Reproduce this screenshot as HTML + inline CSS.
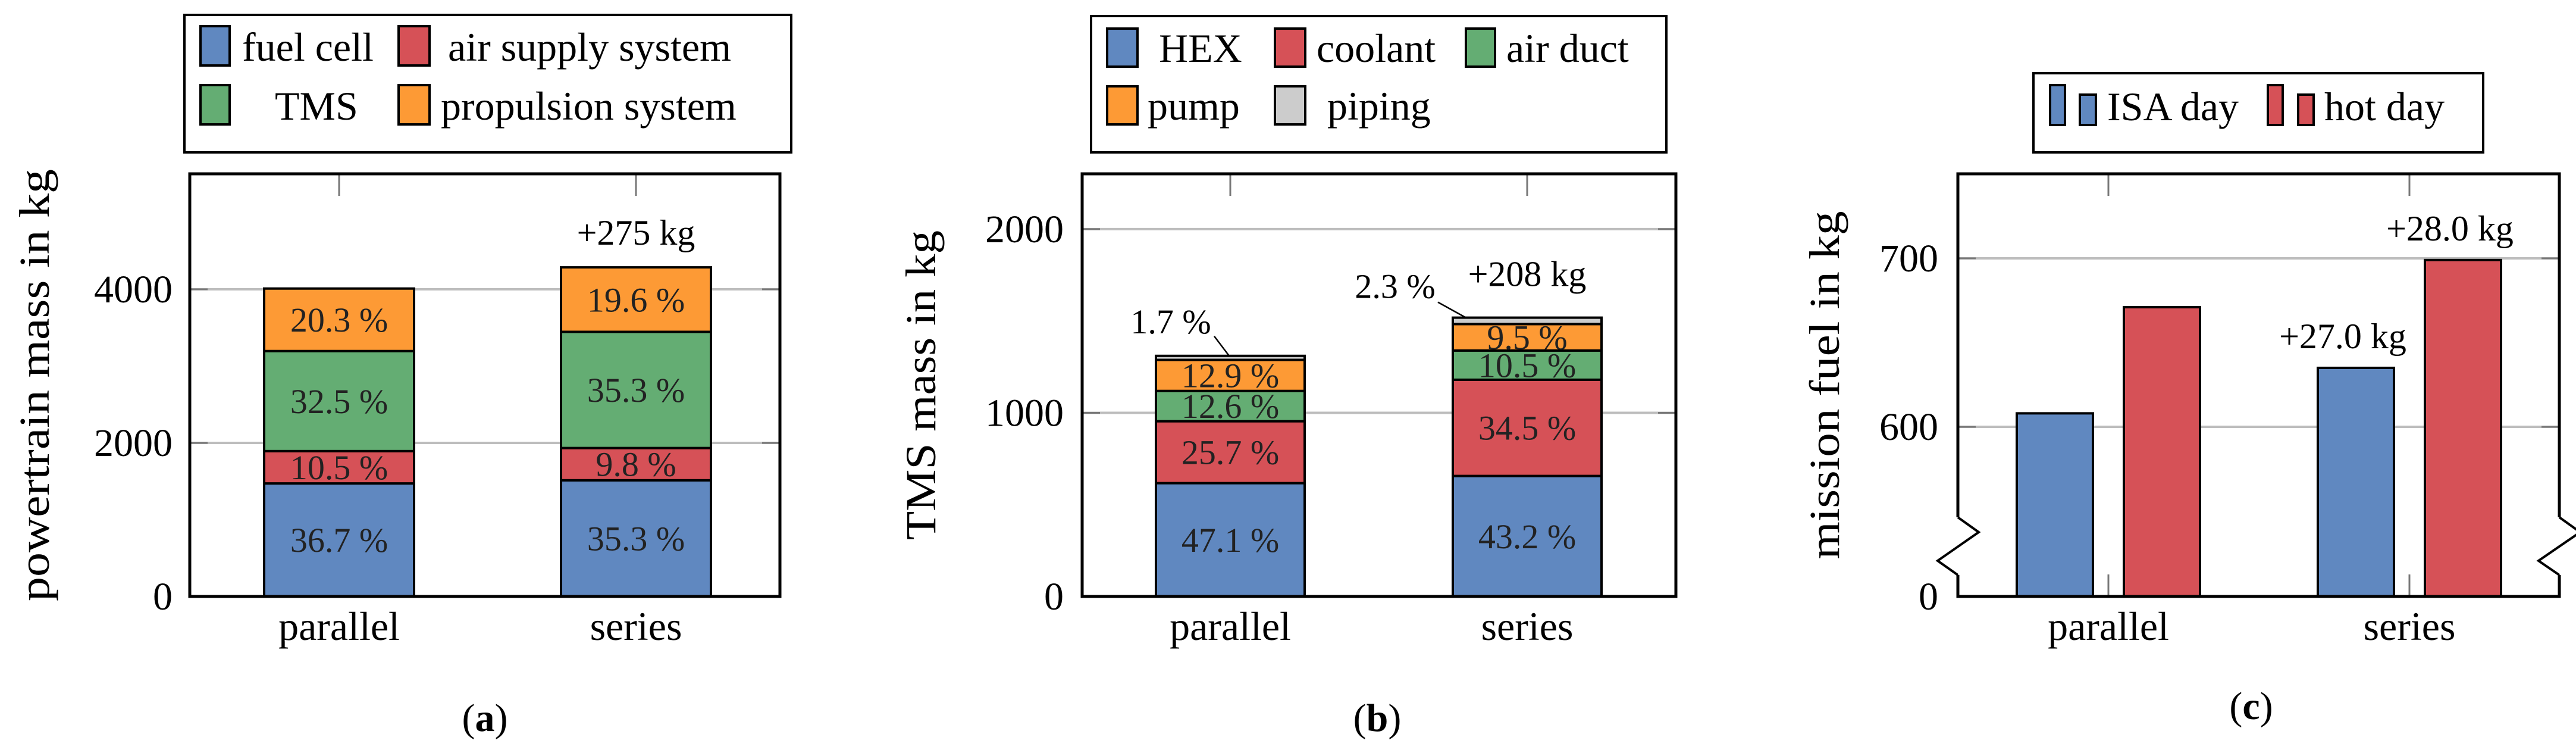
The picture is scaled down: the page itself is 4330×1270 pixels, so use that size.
<!DOCTYPE html>
<html><head><meta charset="utf-8">
<style>
html,body{margin:0;padding:0;background:#fff;}
svg, svg text, svg tspan{font-family:"Liberation Serif","DejaVu Serif",serif;}
</style></head>
<body>
<svg id="fig" width="4330" height="1265" viewBox="0 0 4330 1265" font-family="Liberation Serif, serif" xmlns="http://www.w3.org/2000/svg"></svg>
<script>
// ---------- data ----------
const categories = ["parallel", "series"];
// panel a (kg)
const aFuelCell = [1472, 1513];
const aAirSupply = [421, 420];
const aTMS = [1303, 1513];
const aPropulsion = [814, 840];
const aPctLabels = [["36.7 %","10.5 %","32.5 %","20.3 %"],["35.3 %","9.8 %","35.3 %","19.6 %"]];
const aTicks = [0, 2000, 4000];
const aDelta = "+275 kg";
// panel b (kg)
const bHEX = [617, 656];
const bCoolant = [337, 524];
const bAirDuct = [165, 159];
const bPump = [169, 144];
const bPiping = [22, 35];
const bPctLabels = [["47.1 %","25.7 %","12.6 %","12.9 %","1.7 %"],["43.2 %","34.5 %","10.5 %","9.5 %","2.3 %"]];
const bTicks = [0, 1000, 2000];
const bDelta = "+208 kg";
// panel c (kg)
const cISA = [608, 635];
const cHot = [671, 699];
const cTicks = [600, 700];
const cDeltaLabels = ["+27.0 kg", "+28.0 kg"];

const COL = {blue:"#6088c0", red:"#d65157", green:"#64ad73", orange:"#fd9a35", grey:"#cccccc"};
const NS = "http://www.w3.org/2000/svg";
const svg = document.getElementById("fig");
function mk(tag, attrs, parent, text){
  const e = document.createElementNS(NS, tag);
  for (const k in attrs) e.setAttribute(k, attrs[k]);
  if (tag === "text") e.setAttribute("font-family", "Liberation Serif, serif");
  if (text !== undefined) e.textContent = text;
  (parent || svg).appendChild(e);
  return e;
}
const Y0 = 1002, YT = 292;

function axesFrame(g, x0, x1, catX, yScale, ticks, tickFmt, labelRight){
  ticks.forEach(t => {
    const y = yScale(t);
    if (t !== ticks[0] || y < Y0 - 5) {
      const gl = mk("line",{x1:x0,x2:x1,y1:y,y2:y,stroke:"#bdbdbd","stroke-width":4},g);
      
      
      mk("line",{x1:x0,x2:x0+30,y1:y,y2:y,stroke:"#777","stroke-width":3},g);
      mk("line",{x1:x1-30,x2:x1,y1:y,y2:y,stroke:"#777","stroke-width":3},g);
    }
    const tl = mk("text",{x:labelRight,y:y+22,"text-anchor":"end","font-size":66},g,tickFmt(t));
    
    
  });
  catX.forEach((cx,i) => {
    mk("line",{x1:cx,x2:cx,y1:YT,y2:YT+37,stroke:"#777","stroke-width":3},g);
    mk("line",{x1:cx,x2:cx,y1:Y0-37,y2:Y0,stroke:"#777","stroke-width":3},g);
    const xl = mk("text",{x:cx,y:1075,"text-anchor":"middle","font-size":68},g,categories[i]);
    
    
  });
}
function legendItem(g, x, y, w, h, color, label, tx, name){
  const r = mk("rect",{x:x,y:y,width:w,height:h,fill:color,stroke:"#000","stroke-width":4},g);
  
  
  if (label){
    const t = mk("text",{x:tx,y:y+h-8,"font-size":68},g,label);
    
    
  }
}

// ---------- panel a ----------
(function(){
  const g = mk("g",{});
  
  
  const x0 = 319, x1 = 1311, ymax = 5504;
  const ys = v => Y0 - v/ymax*(Y0-YT);
  const catX = [570, 1069], bw = 252;
  axesFrame(g, x0, x1, catX, ys, aTicks, t=>String(t), 290);
  const series = [aFuelCell, aAirSupply, aTMS, aPropulsion];
  const colors = [COL.blue, COL.red, COL.green, COL.orange];
  const names = ["fuel-cell","air-supply","tms","propulsion"];
  catX.forEach((cx,i) => {
    let acc = 0;
    series.forEach((s,k) => {
      const yb = ys(acc), yt = ys(acc + s[i]);
      const r = mk("rect",{x:cx-bw/2,y:yt,width:bw,height:yb-yt,fill:colors[k],stroke:"#000","stroke-width":4},g);
      
      
      const t = mk("text",{x:cx,y:(yt+yb)/2+20,"text-anchor":"middle","font-size":58,fill:"#222"},g,aPctLabels[i][k]);
      
      
      acc += s[i];
    });
    if (i === 1){
      const d = mk("text",{x:cx,y:ys(acc)-38,"text-anchor":"middle","font-size":60},g,aDelta);
      
      
    }
  });
  const fr = mk("rect",{x:x0,y:YT,width:x1-x0,height:Y0-YT,fill:"none",stroke:"#000","stroke-width":5},g);
  
  
  const yt = mk("text",{transform:"translate(82,647) rotate(-90)","text-anchor":"middle","font-size":72,textLength:726,lengthAdjust:"spacingAndGlyphs"},g,"powertrain mass in kg");
  
  
  const lg = mk("g",{},g);
  
  
  mk("rect",{x:310,y:25,width:1020,height:231,fill:"#fff",stroke:"#000","stroke-width":4},lg);
  legendItem(lg,337,44,49,66,COL.blue,"fuel cell",407,"legend-fuel-cell");
  legendItem(lg,670,44,52,66,COL.red,"air supply system",753,"legend-air-supply");
  legendItem(lg,337,143,49,66,COL.green,"TMS",462,"legend-tms");
  legendItem(lg,670,143,52,66,COL.orange,"propulsion system",741,"legend-propulsion");
  const cap = mk("text",{x:815,y:1228,"text-anchor":"middle","font-size":66},g);
  
  
  cap.innerHTML = '(<tspan font-weight="bold">a</tspan>)';
})();

// ---------- panel b ----------
(function(){
  const g = mk("g",{});
  
  
  const x0 = 1819, x1 = 2817, ymax = 2301;
  const ys = v => Y0 - v/ymax*(Y0-YT);
  const catX = [2068, 2567], bw = 250;
  axesFrame(g, x0, x1, catX, ys, bTicks, t=>String(t), 1788);
  const series = [bHEX, bCoolant, bAirDuct, bPump, bPiping];
  const colors = [COL.blue, COL.red, COL.green, COL.orange, COL.grey];
  const names = ["hex","coolant","air-duct","pump","piping"];
  catX.forEach((cx,i) => {
    let acc = 0;
    series.forEach((s,k) => {
      const yb = ys(acc), yt = ys(acc + s[i]);
      const r = mk("rect",{x:cx-bw/2,y:yt,width:bw,height:yb-yt,fill:colors[k],stroke:"#000","stroke-width":4},g);
      
      
      if (k < 4){
        const t = mk("text",{x:cx,y:(yt+yb)/2+20,"text-anchor":"middle","font-size":58,fill:"#222"},g,bPctLabels[i][k]);
        
        
      }
      acc += s[i];
    });
    const top = ys(acc);
    const lx = i === 0 ? cx - 2 : cx - 103;
    const tx = i === 0 ? cx - 100 : cx - 222;
    const ty = i === 0 ? top - 38 : top - 33;
    const ln = mk("line",{x1:lx,y1:top,x2:i===0?lx-25:lx-47,y2:i===0?top-33:top-26,stroke:"#000","stroke-width":2.5},g);
    
    
    const pt = mk("text",{x:tx,y:ty,"text-anchor":"middle","font-size":58},g,bPctLabels[i][4]);
    
    
    if (i === 1){
      const d = mk("text",{x:cx,y:top-53,"text-anchor":"middle","font-size":60},g,bDelta);
      
      
    }
  });
  const fr = mk("rect",{x:x0,y:YT,width:x1-x0,height:Y0-YT,fill:"none",stroke:"#000","stroke-width":5},g);
  
  
  const yt = mk("text",{transform:"translate(1572,647) rotate(-90)","text-anchor":"middle","font-size":72,textLength:520,lengthAdjust:"spacingAndGlyphs"},g,"TMS mass in kg");
  
  
  const lg = mk("g",{},g);
  
  
  mk("rect",{x:1834,y:27,width:967,height:229,fill:"#fff",stroke:"#000","stroke-width":4},lg);
  legendItem(lg,1861,48,51,64,COL.blue,"HEX",1948,"legend-hex");
  legendItem(lg,2143,48,51,64,COL.red,"coolant",2213,"legend-coolant");
  legendItem(lg,2464,48,49,64,COL.green,"air duct",2532,"legend-air-duct");
  legendItem(lg,1861,145,51,64,COL.orange,"pump",1929,"legend-pump");
  legendItem(lg,2143,145,51,64,COL.grey,"piping",2231,"legend-piping");
  const cap = mk("text",{x:2315,y:1228,"text-anchor":"middle","font-size":66},g);
  
  
  cap.innerHTML = '(<tspan font-weight="bold">b</tspan>)';
})();

// ---------- panel c ----------
(function(){
  const g = mk("g",{});
  
  
  const x0 = 3291, x1 = 4302;
  const ys = v => 717 - (v - 600) * 2.83;
  const catX = [3544, 4050], bw = 128, off = 90;
  cTicks.forEach(t => {
    const y = ys(t);
    const gl = mk("line",{x1:x0,x2:x1,y1:y,y2:y,stroke:"#bdbdbd","stroke-width":4},g);
    
    
    mk("line",{x1:x0,x2:x0+30,y1:y,y2:y,stroke:"#777","stroke-width":3},g);
    mk("line",{x1:x1-30,x2:x1,y1:y,y2:y,stroke:"#777","stroke-width":3},g);
    const tl = mk("text",{x:3258,y:y+22,"text-anchor":"end","font-size":66},g,String(t));
    
    
  });
  const z = mk("text",{x:3258,y:Y0+22,"text-anchor":"end","font-size":66},g,"0");
  
  
  catX.forEach((cx,i) => {
    mk("line",{x1:cx,x2:cx,y1:YT,y2:YT+37,stroke:"#777","stroke-width":3},g);
    mk("line",{x1:cx,x2:cx,y1:Y0-37,y2:Y0,stroke:"#777","stroke-width":3},g);
    const xl = mk("text",{x:cx,y:1075,"text-anchor":"middle","font-size":68},g,categories[i]);
    
    
    const yI = ys(cISA[i]), yH = ys(cHot[i]);
    const r1 = mk("rect",{x:cx-off-bw/2,y:yI,width:bw,height:Y0-yI,fill:COL.blue,stroke:"#000","stroke-width":4},g);
    
    
    const r2 = mk("rect",{x:cx+off-bw/2,y:yH,width:bw,height:Y0-yH,fill:COL.red,stroke:"#000","stroke-width":4},g);
    
    
    if (i === 1){
      const d1 = mk("text",{x:cx-off-22,y:yI-33,"text-anchor":"middle","font-size":60},g,cDeltaLabels[0]);
      
      
      const d2 = mk("text",{x:cx+off-22,y:yH-33,"text-anchor":"middle","font-size":60},g,cDeltaLabels[1]);
      
      
    }
  });
  const fp = mk("path",{d:`M3291,869 L3291,${YT} L4302,${YT} L4302,869 M4302,966 L4302,${Y0} L3291,${Y0} L3291,966`,fill:"none",stroke:"#000","stroke-width":5},g);
  
  
  const zz = mk("path",{d:"M3291,869 L3326,894 L3257,942 L3291,966 M4302,869 L4337,894 L4267,942 L4302,966",fill:"none",stroke:"#000","stroke-width":4},g);
  
  
  const yt = mk("text",{transform:"translate(3091,647) rotate(-90)","text-anchor":"middle","font-size":72,textLength:585,lengthAdjust:"spacingAndGlyphs"},g,"mission fuel in kg");
  
  
  const lg = mk("g",{},g);
  
  
  mk("rect",{x:3418,y:123,width:756,height:133,fill:"#fff",stroke:"#000","stroke-width":4},lg);
  legendItem(lg,3446,143,25,67,COL.blue,null,0,"legend-isa-day-a");
  legendItem(lg,3496,159,27,51,COL.blue,"ISA day",3542,"legend-isa-day");
  legendItem(lg,3812,143,25,67,COL.red,null,0,"legend-hot-day-a");
  legendItem(lg,3863,159,26,51,COL.red,"hot day",3907,"legend-hot-day");
  const cap = mk("text",{x:3784,y:1208,"text-anchor":"middle","font-size":66},g);
  
  
  cap.innerHTML = '(<tspan font-weight="bold">c</tspan>)';
})();
</script>
</body></html>
